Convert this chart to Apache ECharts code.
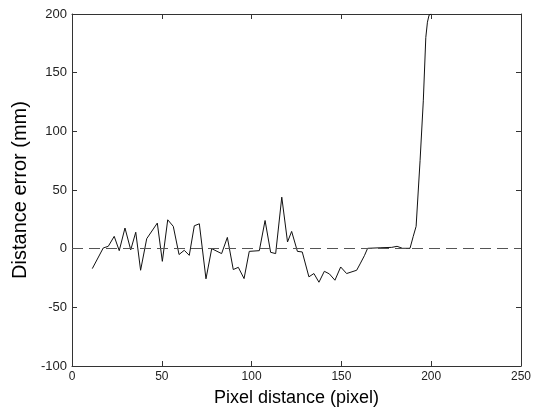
<!DOCTYPE html>
<html><head><meta charset="utf-8">
<script src="https://cdn.jsdelivr.net/npm/echarts@6/dist/echarts.min.js"></script>
<style>html,body{margin:0;padding:0;background:#fff}#c{width:536px;height:412px}</style>
</head><body><div id="c"></div>
<script>
var xValues = [11.3,17.4,20.2,23.5,26.3,29.5,32.7,35.5,38.2,41.6,47.5,50.3,53.3,56.4,59.6,62.5,65.3,68.1,70.9,74.6,77.8,83.3,86.5,89.8,92.6,95.8,98.7,104.3,107.5,110.6,113.4,116.8,120,122.3,125.5,128.2,131.9,134.7,137.5,140.5,143.3,146.4,149.6,152.9,158.5,160.4,162.8,164.6,172,178,181,184,188.2,190,191.6,193.8,195.6,197,197.9,198.8,200];
var yValues = [-17,0.6,2,10.5,-1.7,17.6,-1,14,-18.4,8.5,21.8,-10.8,24.6,19,-5,-1.4,-5.7,19.5,21.2,-25.7,0,-4.2,9.6,-17.8,-15.9,-25.5,-2.3,-1.7,24,-3.1,-4.2,43.9,5.7,14.7,-2.3,-2.8,-24,-21.2,-28.6,-19.3,-21.5,-26.9,-15.6,-21.2,-18.4,-13,-6,0.3,0.8,1.1,2,0.3,0.3,10.5,19,75,126,180,193,199,200];
var xTicks = [0,50,100,150,200,250];
var yTicks = [-100,-50,0,50,100,150,200];
var referenceLevel = 0;

var data = xValues.map(function(x,i){return [x,yValues[i]];});
var chart = echarts.init(document.getElementById('c'), null, {renderer:'canvas'});
var font = 'Liberation Sans, Arial, sans-serif';
var axisLine = {show:true, onZero:false, lineStyle:{color:'#333', width:1}};
var tick = {show:true, inside:true, length:5, lineStyle:{color:'#333'}};
chart.setOption({
  animation:false,
  backgroundColor:'#fff',
  grid:{left:72, right:15, top:14, bottom:45, containLabel:false},
  xAxis:[{
    type:'value', min:xTicks[0], max:xTicks[xTicks.length-1], interval:50,
    name:'Pixel distance (pixel)', nameLocation:'middle', nameGap:23,
    nameTextStyle:{fontFamily:font, fontSize:18, color:'#000'},
    axisLine:axisLine, axisTick:tick,
    axisLabel:{fontFamily:font, fontSize:12, color:'#222', margin:5},
    splitLine:{show:false}
  },{
    type:'value', position:'top', min:0, max:250, interval:50,
    axisLine:axisLine, axisTick:tick,
    axisLabel:{show:false}, splitLine:{show:false}
  }],
  yAxis:[{
    type:'value', min:yTicks[0], max:yTicks[yTicks.length-1], interval:50,
    name:'Distance error (mm)', nameLocation:'middle', nameGap:35,
    nameTextStyle:{fontFamily:font, fontSize:20, color:'#000'},
    axisLine:axisLine, axisTick:tick,
    axisLabel:{fontFamily:font, fontSize:13, color:'#222', margin:5},
    splitLine:{show:false}
  },{
    type:'value', position:'right', min:-100, max:200, interval:50,
    axisLine:axisLine, axisTick:tick,
    axisLabel:{show:false}, splitLine:{show:false}
  }],
  series:[{
    type:'line', data:data, showSymbol:false, symbol:'none',
    lineStyle:{color:'#111', width:1},
    markLine:{silent:true, symbol:'none', label:{show:false},
      lineStyle:{color:'#555', width:1, type:[11,6]},
      data:[{yAxis:referenceLevel}]}
  }]
});
</script></body></html>
